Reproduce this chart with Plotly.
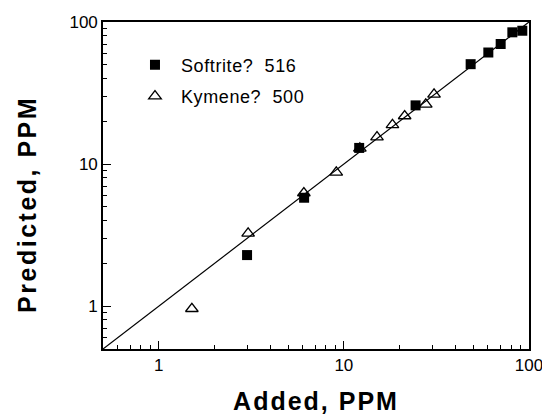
import plotly.graph_objects as go

# Data
softrite_added = [3.0, 6.1, 12.1, 24.4, 48.4, 60.3, 70.3, 81.3, 92.0]
softrite_pred = [2.29, 5.8, 13.0, 25.9, 50.5, 61.0, 70.0, 84.6, 86.8]
kymene_added = [1.51, 3.04, 6.08, 9.1, 12.2, 15.1, 18.3, 21.3, 27.7, 30.7]
kymene_pred = [0.96, 3.26, 6.26, 8.75, 12.9, 15.5, 18.9, 21.8, 26.3, 31.0]
line_x = [0.5, 100]
line_y = [0.5, 100]
tick_vals = [1, 10, 100]
tick_text = ["1", "10", "100"]

FONT = "Liberation Sans, Arial, sans-serif"

fig = go.Figure()
fig.add_trace(go.Scatter(x=line_x, y=line_y, mode="lines",
                         line=dict(color="black", width=1.2),
                         showlegend=False, hoverinfo="skip"))
fig.add_trace(go.Scatter(x=softrite_added, y=softrite_pred, mode="markers",
                         name='<span style="letter-spacing:0.6px">Softrite?\u00a0\u00a0516</span>',
                         legendgroup="a",
                         marker=dict(symbol="square", size=10, color="black",
                                     line=dict(color="black", width=0))))
fig.add_trace(go.Scatter(x=kymene_added, y=kymene_pred, mode="markers",
                         name='<span style="letter-spacing:0.6px">Kymene?\u00a0\u00a0500</span>',
                         legendgroup="b",
                         marker=dict(symbol="triangle-up-open", size=11, color="black",
                                     line=dict(color="black", width=1.3))))

axis_common = dict(
    type="log",
    tickmode="linear", tick0=0, dtick=1,
    labelalias={str(v): t for v, t in zip(tick_vals, tick_text)},
    ticks="inside", ticklen=8, tickwidth=1.3, tickcolor="black",
    minor=dict(dtick="D1", ticks="inside", ticklen=4,
               tickwidth=1.1, tickcolor="black", showgrid=False),
    showline=True, linecolor="black", linewidth=1.6, mirror=True,
    showgrid=False, zeroline=False, automargin=False,
    tickfont=dict(family=FONT, size=17, color="black"),
    ticklabeloverflow="allow",
    range=[-0.30103, 2],
)

fig.update_xaxes(**axis_common,
                 title=dict(text='<b><span style="letter-spacing:2px">Added, PPM</span></b>',
                            font=dict(family=FONT, size=25, color="black"), standoff=18))
fig.update_yaxes(**axis_common,
                 title=dict(text='<b><span style="letter-spacing:2.5px">Predicted, PPM\u00a0\u00a0\u00a0\u00a0</span></b>',
                            font=dict(family=FONT, size=25, color="black"), standoff=26))

fig.update_layout(
    width=542, height=420,
    margin=dict(l=103, r=13, t=22, b=71),
    paper_bgcolor="white", plot_bgcolor="white",
    legend=dict(x=0.061, y=0.925, xanchor="left", yanchor="top",
                font=dict(family=FONT, size=18, color="black"),
                traceorder="grouped", tracegroupgap=5, itemwidth=42,
                bgcolor="rgba(0,0,0,0)"),
)

fig.write_html("out.html")
